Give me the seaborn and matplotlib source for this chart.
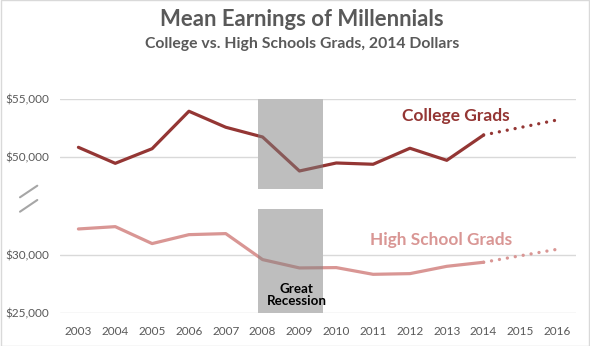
import matplotlib
matplotlib.use("Agg")
import matplotlib.pyplot as plt
import matplotlib.patches as mpatches
from matplotlib.lines import Line2D
from matplotlib.ticker import FuncFormatter
import seaborn as sns
import pandas as pd

# ---- data ----
years = [2003, 2004, 2005, 2006, 2007, 2008, 2009, 2010, 2011, 2012, 2013, 2014]
college = [50860, 49480, 50740, 53970, 52590, 51750, 48820, 49510, 49400, 50780, 49740, 51920]
high_school = [32270, 32470, 31010, 31780, 31870, 29630, 28910, 28940, 28360, 28420, 29050, 29400]
proj_years = [2014, 2015, 2016]
college_proj = [51920, 52570, 53220]
high_school_proj = [29400, 29960, 30520]
tick_years = list(range(2003, 2017))
top_ticks = [50000, 55000]
bottom_ticks = [25000, 30000]
recession = (2007.88, 2009.65)

title = "Mean Earnings of Millennials"
subtitle = "College vs. High Schools Grads, 2014 Dollars"

sns.set_theme(style="white")
plt.rcParams["font.family"] = ["Lato", "DejaVu Sans"]

C_COL = "#943634"
C_HS = "#D99694"
C_TXT = "#595959"
C_GRID = "#D9D9D9"

fig = plt.figure(figsize=(5.9, 3.46), dpi=100)
W, H = 590, 346
def fx(px):
    return px / W
def fy(py):
    return 1 - py / H

left, right = 60, 575.7
ax_top = fig.add_axes([fx(left), fy(189.3), fx(right - left), fy(99.3) - fy(189.3)])
ax_bot = fig.add_axes([fx(left), fy(313.3), fx(right - left), fy(209) - fy(313.3)])

df = pd.DataFrame({"year": years, "college": college, "hs": high_school})
dfp = pd.DataFrame({"year": proj_years, "college": college_proj, "hs": high_school_proj})

dots = (0, (0.01, 2.4))
sns.lineplot(data=df, x="year", y="college", ax=ax_top, color=C_COL, linewidth=2.3, zorder=3)
sns.lineplot(data=dfp, x="year", y="college", ax=ax_top, color=C_COL, linewidth=2.4,
             linestyle=dots, dash_capstyle="round", zorder=3)
sns.lineplot(data=df, x="year", y="hs", ax=ax_bot, color=C_HS, linewidth=2.3, zorder=3)
sns.lineplot(data=dfp, x="year", y="hs", ax=ax_bot, color=C_HS, linewidth=2.4,
             linestyle=dots, dash_capstyle="round", zorder=3)

money = FuncFormatter(lambda v, p: f"${v:,.0f}")
for ax, lim, ticks in [(ax_top, (47241, 55000), top_ticks), (ax_bot, (25000, 33991), bottom_ticks)]:
    ax.set_xlim(2002.5, 2016.5)
    ax.set_ylim(*lim)
    ax.set_yticks(ticks)
    ax.yaxis.set_major_formatter(money)
    ax.grid(axis="y", color=C_GRID, linewidth=1.0)
    ax.grid(axis="x", visible=False)
    ax.set_axisbelow(True)
    for s in ax.spines.values():
        s.set_visible(False)
    ax.tick_params(axis="y", length=0, pad=8, labelsize=8.5, labelcolor=C_TXT)
    ax.set_xlabel("")
    ax.set_ylabel("")
    ax.axvspan(*recession, color="white", zorder=1.5, linewidth=0)
    ax.axvspan(*recession, color="#7F7F7F", alpha=0.5, zorder=4, linewidth=0)

ax_top.set_xticks([])
ax_bot.set_xticks(tick_years)
ax_bot.set_xticklabels([str(y) for y in tick_years])
ax_bot.tick_params(axis="x", length=0, pad=9, labelsize=8.5, labelcolor=C_TXT)

ax_bot.text(2008.92, 25500, "Great\nRecession", ha="center", va="bottom",
            fontsize=9.6, fontweight="bold", color="black", linespacing=1.05, zorder=5)

ax_top.text(2013.24, 53560, "College Grads", ha="center", va="center",
            fontsize=12.5, fontweight="bold", color=C_COL, zorder=5)
ax_bot.text(2012.84, 31350, "High School Grads", ha="center", va="center",
            fontsize=12.4, fontweight="bold", color=C_HS, zorder=5)

fig.text(fx(302), fy(20), title, ha="center", va="center", fontsize=15.9,
         fontweight="bold", color=C_TXT)
fig.text(fx(302), fy(44), subtitle, ha="center", va="center", fontsize=11.3,
         fontweight="bold", color=C_TXT)

# axis break marks
for (x0, y0, x1, y1) in [(20, 197.3, 37.3, 185.7), (20, 211.7, 37.3, 200)]:
    fig.add_artist(Line2D([fx(x0), fx(x1)], [fy(y0), fy(y1)], color="#A6A6A6",
                          linewidth=1.5, transform=fig.transFigure))

# chart border
fig.add_artist(mpatches.Rectangle((fx(0.5), fy(345.5)), fx(588), fy(0.5) - fy(345.5),
                                  fill=False, edgecolor=C_GRID, linewidth=1,
                                  transform=fig.transFigure))

fig.savefig("out.png", dpi=100)
